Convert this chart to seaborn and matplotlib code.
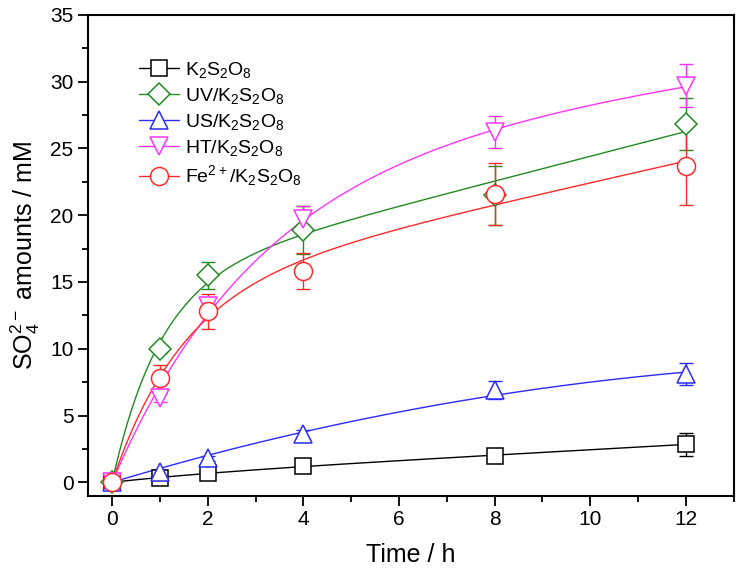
import numpy as np
import pandas as pd
import seaborn as sns
import matplotlib.pyplot as plt
from matplotlib.lines import Line2D
from matplotlib.ticker import MultipleLocator

# data
time_h = [0, 1, 2, 4, 8, 12]
series_names = ['K$_2$S$_2$O$_8$', 'UV/K$_2$S$_2$O$_8$', 'US/K$_2$S$_2$O$_8$',
                'HT/K$_2$S$_2$O$_8$', 'Fe$^{2+}$/K$_2$S$_2$O$_8$']
k2s2o8 = [0, 0.3, 0.7, 1.2, 2.0, 2.85]
uv = [0, 10.0, 15.5, 18.9, 21.5, 26.8]
us = [0, 0.8, 1.8, 3.6, 6.9, 8.1]
ht = [0, 6.3, 13.2, 19.7, 26.2, 29.7]
fe = [0, 7.8, 12.8, 15.8, 21.6, 23.7]
k2s2o8_err = [0, 0.1, 0.2, 0.3, 0.2, 0.85]
uv_err = [0, 0.3, 1.0, 1.8, 2.2, 1.95]
us_err = [0, 0.1, 0.2, 0.3, 0.7, 0.8]
ht_err = [0, 0.3, 0.7, 1.0, 1.2, 1.6]
fe_err = [0, 1.0, 1.3, 1.35, 2.3, 2.95]

colors = ['black', '#228b22', '#2a2aff', '#ff33ff', '#ff2a2a']
markers = ['s', 'D', '^', 'v', 'o']
sizes = [11, 11, 13, 13, 13]


def fit_curve(x, y, xs):
    # least-squares fit of y = a*(1 - exp(-b t)) + c*t, b scanned on a grid
    x = np.asarray(x, float); y = np.asarray(y, float)
    best = None
    for b in np.linspace(0.01, 3, 600):
        A = np.column_stack([1 - np.exp(-b * x), x])
        coef, *_ = np.linalg.lstsq(A, y, rcond=None)
        err = np.sum((A @ coef - y) ** 2)
        if best is None or err < best[0]:
            best = (err, b, coef)
    _, b, (a, c) = best
    return a * (1 - np.exp(-b * xs)) + c * xs


sns.set_style("ticks")
plt.rcParams['font.family'] = ['Liberation Sans', 'DejaVu Sans']
plt.rcParams['mathtext.default'] = 'regular'
for key in ['text.color', 'axes.labelcolor', 'xtick.color', 'ytick.color', 'axes.edgecolor']:
    plt.rcParams[key] = 'black'

fig, ax = plt.subplots(figsize=(7.41, 5.73), dpi=100)

all_vals = [k2s2o8, uv, us, ht, fe]
all_errs = [k2s2o8_err, uv_err, us_err, ht_err, fe_err]
handles = []
xs = np.linspace(0, 12, 300)
for name, vals, errs, c, mk, ms in zip(series_names, all_vals, all_errs, colors, markers, sizes):
    curve = pd.DataFrame({'t': xs, 'v': fit_curve(time_h, vals, xs)})
    sns.lineplot(data=curve, x='t', y='v', color=c, lw=1.0, ax=ax)
    ax.errorbar(time_h, vals, yerr=errs, fmt='none', ecolor=c, elinewidth=1.0,
                capsize=5, capthick=1.0, zorder=3)
    ax.plot(time_h, vals, ls='none', marker=mk, ms=ms, mfc='white', mec=c, mew=1.1, zorder=4)
    handles.append(Line2D([0], [0], color=c, lw=1.0, marker=mk, ms=ms,
                          mfc='white', mec=c, mew=1.1, label=name))

ax.set_xlim(-0.5, 13)
ax.set_ylim(-1, 35)
ax.set_xticks([0, 2, 4, 6, 8, 10, 12])
ax.xaxis.set_minor_locator(MultipleLocator(1))
ax.yaxis.set_major_locator(MultipleLocator(5))
ax.yaxis.set_minor_locator(MultipleLocator(2.5))
ax.tick_params(which='major', direction='out', length=7, width=1.3, labelsize=15,
               top=False, right=False)
ax.tick_params(which='minor', direction='out', length=4, width=1.3, top=False, right=False)
for sp in ax.spines.values():
    sp.set_visible(True)
    sp.set_linewidth(1.5)

ax.set_xlabel('Time / h', fontsize=18, labelpad=10)
ax.set_ylabel('SO$_4^{2-}$ amounts / mM', fontsize=18, labelpad=6)

ax.legend(handles=handles, loc='upper left', bbox_to_anchor=(0.06, 0.93),
          frameon=False, fontsize=14, handlelength=2.1, handletextpad=0.3,
          labelspacing=0.3, borderaxespad=0.2)

fig.subplots_adjust(left=0.119, right=0.99, top=0.974, bottom=0.135)
fig.savefig('out.png', dpi=100)
